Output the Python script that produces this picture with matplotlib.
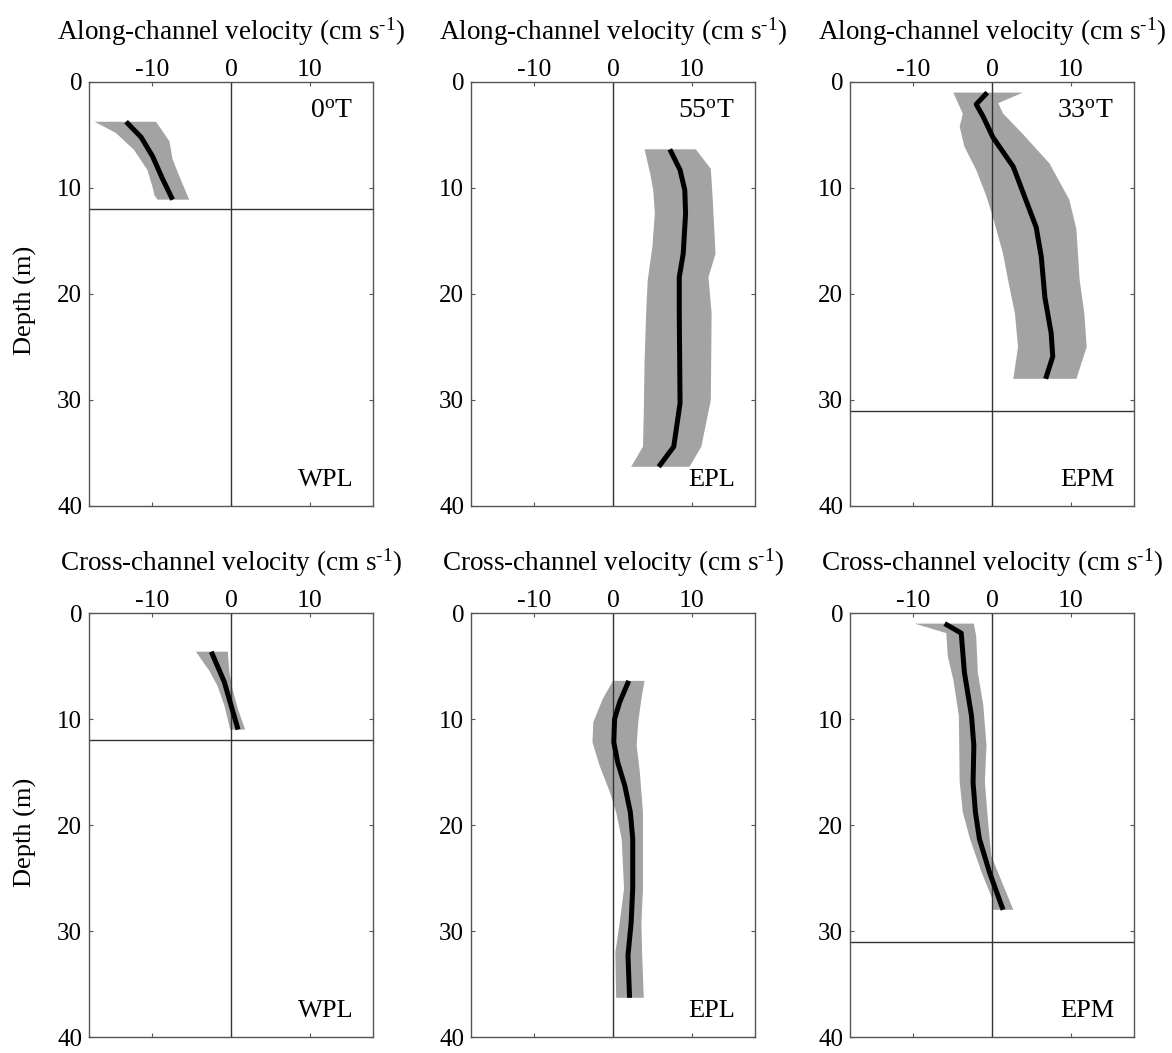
import numpy as np
import matplotlib
matplotlib.use('Agg')
import matplotlib.pyplot as plt

plt.rcParams['font.family'] = ['Liberation Serif', 'DejaVu Serif']
plt.rcParams['mathtext.fontset'] = 'custom'
plt.rcParams['mathtext.rm'] = 'Liberation Serif'
plt.rcParams['mathtext.it'] = 'Liberation Serif:italic'
plt.rcParams['axes.unicode_minus'] = False

# ---- data (velocity in cm/s, depth in m) ----
# Along-channel, WPL
along_wpl_d = [3.75, 5.2, 7.0, 9.1, 11.1]
along_wpl_u = [-13.3, -11.4, -9.95, -8.7, -7.4]
along_wpl_lo_d = [3.75, 4.8, 6.4, 8.3, 9.9, 10.7, 11.1]
along_wpl_lo = [-17.3, -14.6, -12.3, -10.6, -9.95, -9.7, -9.3]
along_wpl_hi_d = [3.75, 5.6, 7.3, 9.25, 11.1]
along_wpl_hi = [-9.5, -7.8, -7.4, -6.35, -5.3]

# Along-channel, EPL
along_epl_d = [6.35, 8.3, 10.2, 12.4, 16.2, 18.4, 21.8, 30.3, 34.4, 36.3]
along_epl_u = [7.2, 8.5, 9.1, 9.2, 8.9, 8.4, 8.4, 8.5, 7.7, 5.8]
along_epl_lo_d = [6.35, 8.6, 10.2, 12.4, 15.5, 18.7, 21.8, 26.5, 31.3, 34.4, 36.3]
along_epl_lo = [4.0, 4.7, 5.1, 5.3, 5.0, 4.4, 4.2, 4.0, 3.9, 3.8, 2.3]
along_epl_hi_d = [6.35, 8.2, 10.5, 16.2, 18.4, 21.8, 30.0, 34.4, 36.3]
along_epl_hi = [10.5, 12.4, 12.6, 13.0, 12.1, 12.5, 12.4, 11.2, 9.7]

# Along-channel, EPM
along_epm_d = [1.0, 2.1, 3.3, 5.2, 8.0, 13.7, 16.5, 20.3, 23.7, 25.9, 28.0]
along_epm_u = [-0.6, -2.0, -1.1, 0.1, 2.7, 5.6, 6.25, 6.7, 7.5, 7.7, 6.8]
along_epm_lo_d = [1.0, 3.0, 4.2, 6.1, 8.3, 10.8, 12.7, 16.2, 19.3, 21.8, 25.0, 28.0]
along_epm_lo = [-4.9, -3.7, -4.1, -3.5, -2.0, -0.7, 0.1, 1.4, 2.2, 2.9, 3.3, 2.7]
along_epm_hi_d = [1.0, 2.0, 2.97, 4.9, 7.7, 11.1, 13.9, 18.6, 21.8, 25.0, 28.0]
along_epm_hi = [3.9, 0.8, 1.4, 3.9, 7.3, 9.8, 10.7, 11.1, 11.7, 12.0, 10.7]

# Cross-channel, WPL
cross_wpl_d = [3.65, 6.5, 8.7, 11.0]
cross_wpl_u = [-2.5, -0.85, 0.0, 0.9]
cross_wpl_lo_d = [3.65, 5.45, 6.9, 8.7, 11.0]
cross_wpl_lo = [-4.45, -2.75, -1.7, -0.85, -0.1]
cross_wpl_hi_d = [3.65, 5.6, 7.2, 9.0, 11.0]
cross_wpl_hi = [-0.4, -0.2, 0.2, 0.85, 1.8]

# Cross-channel, EPL
cross_epl_d = [6.4, 8.4, 10.0, 12.2, 14.1, 16.3, 18.8, 21.3, 26.0, 29.2, 32.3, 36.3]
cross_epl_u = [2.0, 0.85, 0.2, 0.1, 0.6, 1.5, 2.2, 2.5, 2.5, 2.3, 1.9, 2.1]
cross_epl_lo_d = [6.4, 8.1, 10.3, 12.2, 14.4, 16.9, 18.8, 21.3, 26.0, 29.2, 32.0, 36.3]
cross_epl_lo = [0.0, -1.3, -2.5, -2.6, -1.7, -0.4, 0.4, 1.1, 1.4, 0.85, 0.3, 0.4]
cross_epl_hi_d = [6.4, 8.1, 10.3, 12.5, 15.0, 18.8, 26.0, 29.2, 32.3, 36.3]
cross_epl_hi = [4.0, 3.6, 3.2, 3.0, 3.4, 3.8, 3.8, 3.6, 3.7, 3.9]

# Cross-channel, EPM
cross_epm_d = [1.0, 1.9, 5.6, 9.7, 12.5, 16.0, 18.8, 21.3, 24.5, 28.0]
cross_epm_u = [-6.0, -3.9, -3.5, -2.6, -2.3, -2.4, -2.1, -1.6, -0.3, 1.4]
cross_epm_lo_d = [1.0, 1.9, 4.1, 6.3, 9.7, 15.9, 18.8, 21.3, 24.5, 27.0, 28.0]
cross_epm_lo = [-9.8, -5.8, -5.6, -4.9, -4.2, -4.1, -3.7, -2.8, -1.3, 0.05, 0.05]
cross_epm_hi_d = [1.0, 2.2, 5.6, 8.7, 12.5, 15.9, 18.8, 22.9, 28.0]
cross_epm_hi = [-2.3, -2.0, -1.8, -1.1, -0.7, -0.9, -0.6, -0.1, 2.7]

stations = ['WPL', 'EPL', 'EPM']
headings = ['0', '55', '33']
bottom_depth = [12, None, 31]
row_titles = ['Along-channel velocity (cm s$^{\\text{-1}}$)',
              'Cross-channel velocity (cm s$^{\\text{-1}}$)']

panels = [
    [(along_wpl_d, along_wpl_u, along_wpl_lo_d, along_wpl_lo, along_wpl_hi_d, along_wpl_hi),
     (along_epl_d, along_epl_u, along_epl_lo_d, along_epl_lo, along_epl_hi_d, along_epl_hi),
     (along_epm_d, along_epm_u, along_epm_lo_d, along_epm_lo, along_epm_hi_d, along_epm_hi)],
    [(cross_wpl_d, cross_wpl_u, cross_wpl_lo_d, cross_wpl_lo, cross_wpl_hi_d, cross_wpl_hi),
     (cross_epl_d, cross_epl_u, cross_epl_lo_d, cross_epl_lo, cross_epl_hi_d, cross_epl_hi),
     (cross_epm_d, cross_epm_u, cross_epm_lo_d, cross_epm_lo, cross_epm_hi_d, cross_epm_hi)],
]

W, H = 1172, 1053
fig = plt.figure(figsize=(W / 100, H / 100), dpi=100)

col_left = [89, 471, 850]
ax_w = 284
row_top = [82, 613]
ax_h = 424

for r in range(2):
    for c in range(3):
        ax = fig.add_axes([col_left[c] / W, 1 - (row_top[r] + ax_h) / H, ax_w / W, ax_h / H])
        d, u, lo_d, lo, hi_d, hi = [np.asarray(a, dtype=float) for a in panels[r][c]]

        ax.fill(np.concatenate([lo, hi[::-1]]), np.concatenate([lo_d, hi_d[::-1]]),
                color='#a3a3a3', lw=0, zorder=1)
        ax.plot(u, d, color='black', lw=3.6, zorder=3, solid_capstyle='butt')

        ax.axvline(0, color='#333333', lw=1.0, zorder=2)
        if bottom_depth[c] is not None:
            ax.axhline(bottom_depth[c], color='#333333', lw=1.0, zorder=2)

        ax.set_xlim(-18, 18)
        ax.set_ylim(40, 0)
        ax.set_xticks([-10, 0, 10])
        ax.set_yticks([0, 10, 20, 30, 40])
        ax.tick_params(direction='in', top=True, bottom=True, left=True, right=True,
                       labeltop=True, labelbottom=False, labelsize=18.5, length=3,
                       width=0.8, color='#555555')
        ax.tick_params(axis='x', pad=1)
        ax.tick_params(axis='y', pad=5, labelsize=18)
        for s in ax.spines.values():
            s.set_color('#555555')
            s.set_linewidth(1.0)

        ax.text(0.5, 1 + 42 / ax_h, row_titles[r], transform=ax.transAxes,
                ha='center', va='baseline', fontsize=19.5)
        ax.text(0.93, 0.047, stations[c], transform=ax.transAxes,
                ha='right', va='baseline', fontsize=19)
        if r == 0:
            ax.text(0.93, 0.915, headings[c] + '$^{\\mathrm{o}}$T', transform=ax.transAxes,
                    ha='right', va='baseline', fontsize=20)

fig.text(25 / W, 1 - 300 / H, 'Depth (m)', rotation=90, ha='center', va='center', fontsize=19)
fig.text(25 / W, 1 - 832 / H, 'Depth (m)', rotation=90, ha='center', va='center', fontsize=19)

fig.savefig('out.png', dpi=100)
